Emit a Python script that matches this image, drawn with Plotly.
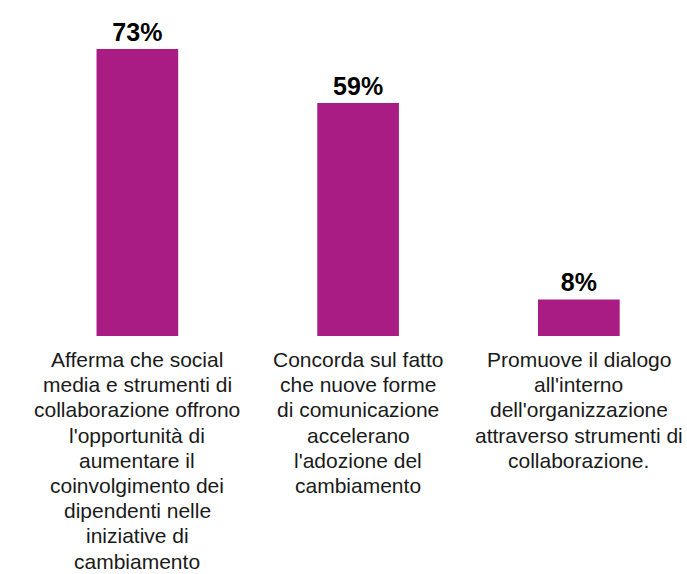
import plotly.graph_objects as go

categories = [
    "Afferma che social<br>media e strumenti di<br>collaborazione offrono<br>l'opportunità di<br>aumentare il<br>coinvolgimento dei<br>dipendenti nelle<br>iniziative di<br>cambiamento",
    "Concorda sul fatto<br>che nuove forme<br>di comunicazione<br>accelerano<br>l'adozione del<br>cambiamento",
    "Promuove il dialogo<br>all'interno<br>dell'organizzazione<br>attraverso strumenti di<br>collaborazione.",
]
values = [73, 59, 8]
value_labels = [f"{v}%" for v in values]

BAR_COLOR = "#A91C83"
FONT = "Liberation Sans, Arial, sans-serif"
AXIS_BASE = -1.5

x_pos = list(range(len(categories)))

fig = go.Figure()
fig.add_trace(go.Bar(
    x=x_pos,
    y=[v - AXIS_BASE for v in values],
    base=AXIS_BASE,
    width=0.37,
    marker=dict(color=BAR_COLOR, line=dict(width=0)),
    text=value_labels,
    textposition="outside",
    textfont=dict(family=FONT, size=25, color="#000000", weight="bold"),
    cliponaxis=False,
    hoverinfo="skip",
))

annotations = []
LINE_SPACING = 25.2
FIRST_OFFSET = 10
for xi, label in zip(x_pos, categories):
    for i, line in enumerate(label.split("<br>")):
        annotations.append(dict(
            x=xi, y=0, xref="x", yref="paper",
            text=line, showarrow=False,
            xanchor="center", yanchor="top",
            yshift=-(FIRST_OFFSET + i * LINE_SPACING),
            font=dict(family=FONT, size=21, color="#1a1a1a"),
        ))

fig.update_layout(
    width=687, height=574,
    margin=dict(l=27, r=0, t=22, b=238),
    plot_bgcolor="white", paper_bgcolor="white",
    showlegend=False,
    annotations=annotations,
    xaxis=dict(range=[-0.5, 2.49], showticklabels=False, showgrid=False,
               zeroline=False, showline=False, ticks=""),
    yaxis=dict(range=[AXIS_BASE, 80], visible=False, showgrid=False, zeroline=False),
)

fig.write_html("out.html")
